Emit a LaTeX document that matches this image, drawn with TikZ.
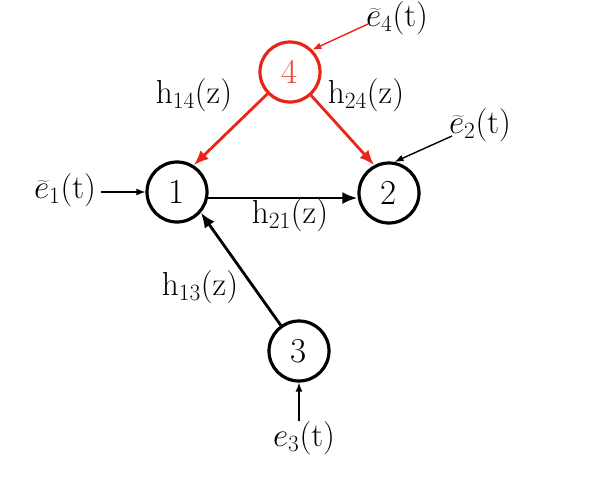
\RequirePackage{fix-cm}
\documentclass[tikz,border=0pt]{standalone}
\usepackage{graphicx}
\usetikzlibrary{arrows.meta}
\definecolor{myred}{RGB}{232,38,24}
\newcommand{\bignum}[1]{\scalebox{1.25}{#1}}
\begin{document}
\begin{tikzpicture}[x=1pt,y=-1pt,
  every node/.style={font=\fontsize{28}{32}\selectfont},
  lab/.style={scale=1.19,inner sep=1pt},
  vnode/.style={circle,draw,line width=3.2pt,minimum size=60pt,inner sep=0pt},
  edge/.style={line width=2.8pt,-{Latex[length=15pt,width=12pt]}},
  inarrow/.style={line width=1.4pt,-{Latex[length=9pt,width=7pt]}}]
\useasboundingbox (0,0) rectangle (598,480);
\node[vnode] (n1) at (177,192) {\bignum{1}};
\node[vnode] (n2) at (389,193) {\bignum{2}};
\node[vnode] (n3) at (299,351) {\bignum{3}};
\node[vnode,draw=myred,text=myred!85] (n4) at (290,72) {\bignum{4}};
\node[lab] (e1) at (65,190) {$\widetilde{e}_1(\mathrm{t})$};
\node[lab] (e2) at (480,125) {$\widetilde{e}_2(\mathrm{t})$};
\node[lab] (e3) at (304,438) {$e_3(\mathrm{t})$};
\node[lab] (e4) at (397,18) {$\widetilde{e}_4(\mathrm{t})$};
\node[lab] (l14) at (194,95) {$\mathrm{h}_{14}(\mathrm{z})$};
\node[lab] (l24) at (366,95) {$\mathrm{h}_{24}(\mathrm{z})$};
\node[lab] (l21) at (290,215) {$\mathrm{h}_{21}(\mathrm{z})$};
\node[lab] (l13) at (200,287) {$\mathrm{h}_{13}(\mathrm{z})$};
\coordinate (s1) at (101,192);
\coordinate (s2) at (452,136);
\coordinate (s3) at (299,421);
\coordinate (s4) at (368,24);
\draw[edge] (n1.-11) -- (n1.-11 -| n2.west);
\draw[edge] (n3) -- (n1.-41);
\draw[edge,myred] (n4) -- (n1.58);
\draw[edge,myred] (n4) -- (n2.118);
\draw[inarrow] (s1) -- (n1);
\draw[inarrow] (s2) -- (n2.80);
\draw[inarrow] (s3) -- (n3);
\draw[inarrow,myred] (s4) -- (n4.45);
\end{tikzpicture}
\end{document}
